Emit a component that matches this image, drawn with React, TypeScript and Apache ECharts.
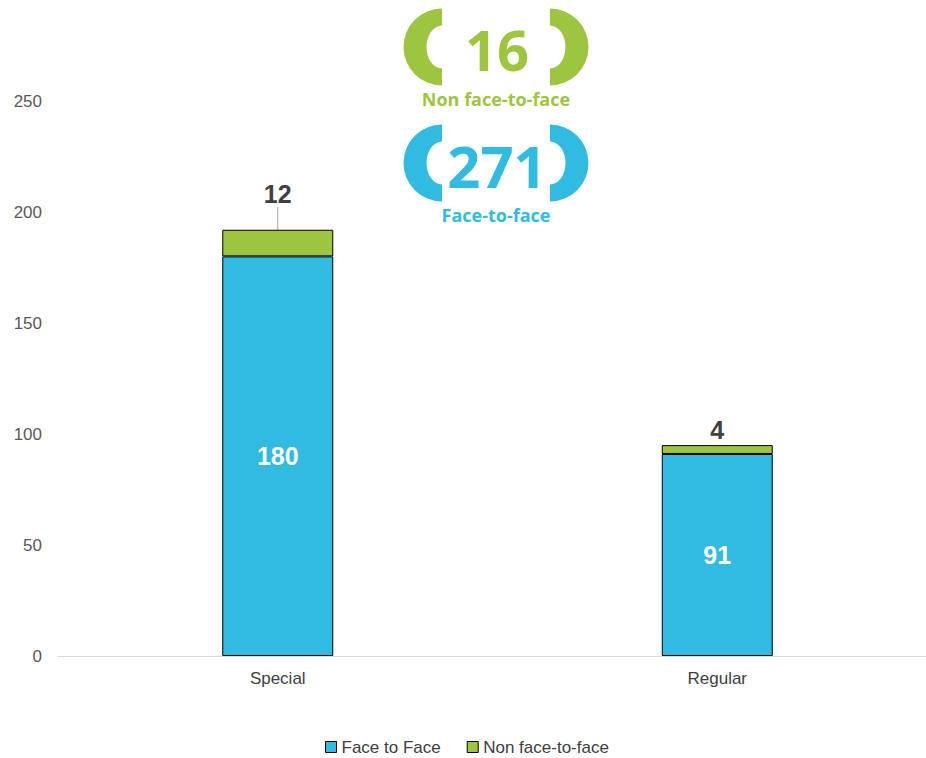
import React, { useEffect, useRef } from "react";
import * as echarts from "echarts";

const categories = ["Special", "Regular"];
const faceToFace = [180, 91];
const nonFaceToFace = [12, 4];
const yTicks = [0, 50, 100, 150, 200, 250];

const BLUE = "#31BBE0";
const GREEN = "#9DC53F";

let registered = false;
function registerBracket() {
  if (registered) return;
  registered = true;
  const d = "M 0 -38.5 A 38.5 38.5 0 0 0 0 38.5 L 0 21.5 A 15.5 21.5 0 0 1 0 -21.5 Z";
  echarts.graphic.registerShape("bracket", echarts.graphic.extendPath(d, {}) as any);
}

export default function App() {
  const ref = useRef<HTMLDivElement>(null);
  useEffect(() => {
    if (!ref.current) return;
    registerBracket();
    const chart = echarts.init(ref.current, null, { renderer: "svg" });
    const totalF2F = faceToFace.reduce((a, b) => a + b, 0);
    const totalNon = nonFaceToFace.reduce((a, b) => a + b, 0);
    const font = "Liberation Sans, Arial, sans-serif";
    const badgeFont = "Open Sans, Lato, sans-serif";
    const bracket = (x: number, y: number, left: boolean, color: string) => ({
      type: "bracket",
      silent: true,
      x,
      y,
      scaleX: left ? 1 : -1,
      scaleY: 1,
      style: { fill: color },
    });
    chart.setOption({
      animation: false,
      textStyle: { fontFamily: font },
      grid: { left: 58, right: 0, top: 101, bottom: 102 },
      legend: {
        top: 738,
        left: 320,
        padding: [0, 5],
        icon: "rect",
        itemWidth: 11,
        itemHeight: 11,
        itemGap: 26,
        itemStyle: { borderColor: "#000", borderWidth: 1 },
        textStyle: { color: "#404040", fontSize: 17, lineHeight: 18, fontFamily: font },
        data: ["Face to Face", "Non face-to-face"],
      },
      xAxis: {
        type: "category",
        data: categories,
        axisLine: { lineStyle: { color: "#D9D9D9", width: 1 } },
        axisTick: { show: false },
        axisLabel: { color: "#404040", fontSize: 17, margin: 14 },
      },
      yAxis: {
        type: "value",
        min: yTicks[0],
        max: yTicks[yTicks.length - 1],
        interval: 50,
        splitLine: { show: false },
        axisLine: { show: false },
        axisTick: { show: false },
        axisLabel: { color: "#595959", fontSize: 17, margin: 16 },
      },
      series: [
        {
          name: "Face to Face",
          type: "bar",
          stack: "total",
          data: faceToFace,
          barWidth: 111,
          itemStyle: { color: BLUE, borderColor: "#000", borderWidth: 1 },
          label: {
            show: true,
            position: "inside",
            color: "#FFFFFF",
            fontSize: 25,
            fontWeight: "bold",
          },
        },
        {
          name: "Non face-to-face",
          type: "bar",
          stack: "total",
          data: nonFaceToFace.map((v, i) => ({
            value: v,
            labelLine: { show: i === 0 },
          })),
          barWidth: 111,
          itemStyle: { color: GREEN, borderColor: "#000", borderWidth: 1 },
          label: {
            show: true,
            position: "top",
            distance: 3,
            color: "#404040",
            fontSize: 25,
            fontWeight: "bold",
          },
          labelLayout: (p: any) => (p.dataIndex === 0 ? { dy: -20 } : {}),
          labelLine: { show: false, lineStyle: { color: "#A6A6A6", width: 1 } },
        },
      ],
      graphic: [
        bracket(442, 47, true, GREEN),
        bracket(550, 47, false, GREEN),
        {
          type: "text",
          silent: true,
          style: {
            x: 497,
            y: 49,
            text: String(totalNon),
            fill: GREEN,
            font: `bold 56px ${badgeFont}`,
            textAlign: "center",
            textVerticalAlign: "middle",
          },
        },
        {
          type: "text",
          silent: true,
          style: {
            x: 496,
            y: 99,
            text: "Non face-to-face",
            fill: GREEN,
            font: `bold 18px ${badgeFont}`,
            textAlign: "center",
            textVerticalAlign: "middle",
          },
        },
        bracket(442, 163, true, BLUE),
        bracket(550, 163, false, BLUE),
        {
          type: "text",
          silent: true,
          style: {
            x: 497,
            y: 165,
            text: String(totalF2F),
            fill: BLUE,
            font: `bold 58px ${badgeFont}`,
            textAlign: "center",
            textVerticalAlign: "middle",
          },
        },
        {
          type: "text",
          silent: true,
          style: {
            x: 496,
            y: 215,
            text: "Face-to-face",
            fill: BLUE,
            font: `bold 18px ${badgeFont}`,
            textAlign: "center",
            textVerticalAlign: "middle",
          },
        },
      ],
    });
    return () => chart.dispose();
  }, []);
  return (
    <div style={{ position: "absolute", left: 0, top: 0, width: 926, height: 758, overflow: "hidden" }}>
      <div ref={ref} style={{ width: 937, height: 758 }} />
    </div>
  );
}
